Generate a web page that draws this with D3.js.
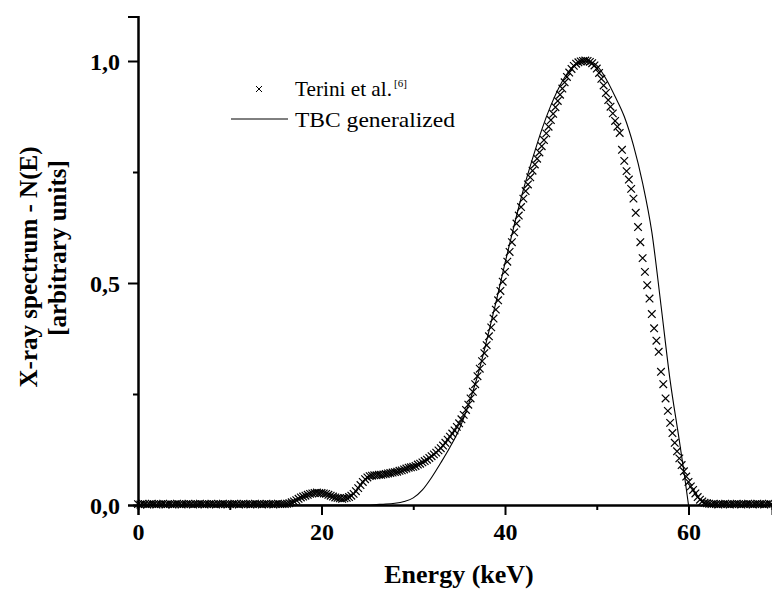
<!DOCTYPE html>
<html>
<head>
<meta charset="utf-8">
<script src="https://cdn.jsdelivr.net/npm/d3@7"></script>
<style>
  body { margin: 0; background: #fff; }
  svg text { font-family: "Liberation Serif", "DejaVu Serif", serif; fill: #000; }
</style>
</head>
<body>
<svg width="772" height="589"></svg>
<script>
// measured spectrum (Terini et al.), one value every 0.25 keV starting at 0 keV
var terStep = 0.25;
var terValues = [
  0.002,0.001,0.003,0.002,0.001,0.002,0.003,0.002,
  0.001,0.002,0.002,0.003,0.001,0.002,0.002,0.001,
  0.002,0.003,0.002,0.001,0.002,0.002,0.003,0.002,
  0.001,0.002,0.002,0.003,0.002,0.001,0.002,0.002,
  0.003,0.002,0.001,0.002,0.002,0.003,0.002,0.001,
  0.002,0.002,0.003,0.002,0.001,0.002,0.003,0.002,
  0.002,0.001,0.002,0.003,0.002,0.002,0.001,0.002,
  0.003,0.002,0.002,0.001,0.002,0.003,0.002,0.002,
  0.002,0.003,0.004,0.006,0.008,0.011,0.014,0.017,
  0.019,0.021,0.023,0.025,0.026,0.027,0.028,0.027,
  0.027,0.026,0.025,0.023,0.021,0.019,0.017,0.016,
  0.015,0.014,0.015,0.016,0.018,0.021,0.025,0.031,
  0.038,0.045,0.052,0.058,0.062,0.065,0.066,0.067,
  0.067,0.068,0.068,0.069,0.070,0.071,0.072,0.073,
  0.074,0.075,0.077,0.078,0.080,0.082,0.084,0.085,
  0.086,0.088,0.091,0.093,0.096,0.099,0.102,0.106,
  0.110,0.114,0.118,0.123,0.128,0.134,0.140,0.147,
  0.154,0.161,0.168,0.176,0.184,0.193,0.203,0.214,
  0.226,0.240,0.255,0.272,0.290,0.307,0.324,0.342,
  0.360,0.380,0.400,0.420,0.440,0.461,0.482,0.503,
  0.525,0.548,0.570,0.592,0.614,0.634,0.652,0.671,
  0.690,0.707,0.722,0.738,0.753,0.767,0.780,0.794,
  0.808,0.822,0.837,0.852,0.867,0.881,0.896,0.910,
  0.924,0.938,0.952,0.964,0.974,0.982,0.989,0.994,
  0.997,0.999,1.000,1.001,1.000,0.998,0.995,0.990,
  0.983,0.973,0.960,0.945,0.928,0.912,0.897,0.882,
  0.865,0.852,0.838,0.800,0.775,0.752,0.733,0.712,
  0.690,0.658,0.626,0.592,0.556,0.525,0.495,0.465,
  0.430,0.398,0.370,0.345,0.300,0.272,0.240,0.212,
  0.185,0.162,0.140,0.121,0.105,0.090,0.076,0.064,
  0.052,0.042,0.034,0.026,0.018,0.012,0.008,0.005,
  0.004,0.003,0.002,0.003,0.002,0.001,0.002,0.002,
  0.003,0.002,0.001,0.002,0.002,0.003,0.002,0.001,
  0.002,0.002,0.003,0.002,0.001,0.002,0.003,0.002,
  0.002,0.001,0.002,0.003,0.002
];

// TBC generalized model curve
var tbcEnergy = [0, 25, 26, 27, 28, 29, 30, 31, 32, 33, 34, 35, 36, 37, 38, 39, 40, 41, 42,
                 43, 44, 45, 46, 47, 48, 49, 50, 51, 52, 53, 54, 55, 56, 57, 58, 59, 59.5, 60];
var tbcValues = [0, 0, 0.001, 0.002, 0.004, 0.008, 0.016, 0.034, 0.062, 0.095, 0.130, 0.170, 0.225,
                 0.290, 0.370, 0.455, 0.545, 0.630, 0.710, 0.780, 0.845, 0.900, 0.945, 0.978, 0.996,
                 1.000, 0.990, 0.960, 0.920, 0.875, 0.810, 0.725, 0.615, 0.450, 0.280, 0.145, 0.075, 0];

var xMajor = [0, 20, 40, 60];
var xMinor = [10, 30, 50];
var yMajor = [0, 0.5, 1.0];
var yMinor = [0.25, 0.75];

var serif = "'Liberation Serif', 'DejaVu Serif', serif";
var svg = d3.select("svg");

var x = d3.scaleLinear().domain([0, 69.1]).range([138, 772]);
var y = d3.scaleLinear().domain([0, 1.1]).range([505, 16.6]);

var comma = function(d){ return d3.format(".1f")(d).replace(".", ","); };

// model curve (drawn first, markers sit on top like in the original)
var line = d3.line()
    .x(function(d){ return x(d[0]); })
    .y(function(d){ return y(d[1]); })
    .curve(d3.curveMonotoneX);

svg.append("path")
    .datum(tbcEnergy.map(function(e, i){ return [e, tbcValues[i]]; }))
    .attr("d", line)
    .attr("fill", "none")
    .attr("stroke", "#000")
    .attr("stroke-width", 1.1);

// measured points as x marks
var cross = "M-3.8,-3.8L3.8,3.8M-3.8,3.8L3.8,-3.8";
svg.append("g").selectAll("path")
    .data(terValues)
    .enter().append("path")
    .attr("transform", function(d, i){
        return "translate(" + x(i * terStep) + "," + y(d) + ")";
    })
    .attr("d", cross)
    .attr("fill", "none")
    .attr("stroke", "#000")
    .attr("stroke-width", 1.2);

// axes
var xAxis = svg.append("g").attr("transform", "translate(0,505)")
    .call(d3.axisBottom(x).tickValues(xMajor).tickSize(10).tickPadding(8).tickFormat(d3.format("d")));
var xAxisMinor = svg.append("g").attr("transform", "translate(0,505)")
    .call(d3.axisBottom(x).tickValues(xMinor).tickSize(5).tickFormat(""));
var yAxis = svg.append("g").attr("transform", "translate(138,0)")
    .call(d3.axisLeft(y).tickValues(yMajor).tickSize(10).tickPadding(8).tickFormat(comma));
var yAxisMinor = svg.append("g").attr("transform", "translate(138,0)")
    .call(d3.axisLeft(y).tickValues(yMinor).tickSize(5).tickFormat(""));

[xAxis, xAxisMinor, yAxis, yAxisMinor].forEach(function(g){
    g.attr("font-family", null);
    g.select(".domain").attr("stroke", "#000").attr("stroke-width", 2);
    g.selectAll(".tick line").attr("stroke", "#000").attr("stroke-width", 2);
    g.selectAll(".tick text")
        .style("font-family", serif)
        .style("font-weight", "bold")
        .style("font-size", "24px")
        .attr("fill", "#000");
});
yAxis.selectAll(".tick text").attr("dy", "0.36em");

// legend
svg.append("path")
    .attr("transform", "translate(259,89)")
    .attr("d", "M-3,-3L3,3M-3,3L3,-3")
    .attr("stroke", "#000")
    .attr("stroke-width", 1);
svg.append("text").attr("x", 295).attr("y", 96)
    .style("font-family", serif).style("font-size", "21px")
    .attr("textLength", 97).attr("lengthAdjust", "spacingAndGlyphs")
    .text("Terini et al.");
svg.append("text").attr("x", 394).attr("y", 87)
    .style("font-family", serif).style("font-size", "11px")
    .text("[6]");
svg.append("line")
    .attr("x1", 231).attr("x2", 288).attr("y1", 119).attr("y2", 119)
    .attr("stroke", "#000").attr("stroke-width", 1);
svg.append("text").attr("x", 295).attr("y", 127)
    .style("font-family", serif).style("font-size", "21px")
    .attr("textLength", 160).attr("lengthAdjust", "spacingAndGlyphs")
    .text("TBC generalized");

// axis titles
svg.append("text")
    .attr("x", 459).attr("y", 583)
    .attr("text-anchor", "middle")
    .style("font-family", serif).style("font-size", "26px").style("font-weight", "bold")
    .text("Energy (keV)");

svg.append("text")
    .attr("transform", "translate(37,267) rotate(-90)")
    .attr("text-anchor", "middle")
    .style("font-family", serif).style("font-size", "25px").style("font-weight", "bold")
    .text("X-ray spectrum - N(E)");
svg.append("text")
    .attr("transform", "translate(66,248) rotate(-90)")
    .attr("text-anchor", "middle")
    .style("font-family", serif).style("font-size", "25px").style("font-weight", "bold")
    .text("[arbitrary units]");
</script>
</body>
</html>
